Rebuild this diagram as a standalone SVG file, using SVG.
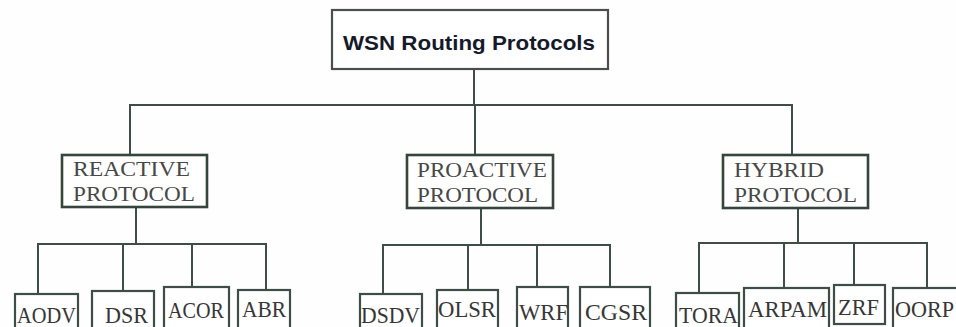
<svg xmlns="http://www.w3.org/2000/svg" width="956" height="327" viewBox="0 0 956 327">
  <style>
    .bg { fill: #fefefe; }
    .wire { stroke: #3e4d45; stroke-width: 2; fill: none; stroke-linecap: square; }
    .root-box { fill: #ffffff; stroke: #4a4f4c; stroke-width: 2.2; }
    .root-text { font-family: "Liberation Sans", Arial, sans-serif; font-weight: bold; font-size: 21px; fill: #151a2a; }
    .cat-box { fill: #ffffff; stroke: #34453b; stroke-width: 2.6; }
    .cat-text { font-family: "Liberation Serif", "Times New Roman", serif; font-size: 22px; fill: #474747; }
    .leaf-box { fill: #ffffff; stroke: #3e4d45; stroke-width: 2.2; }
    .leaf-text { font-family: "Liberation Serif", "Times New Roman", serif; font-size: 23px; fill: #363636; }
  </style>

  <rect class="bg" x="0" y="0" width="956" height="327"/>

  <!-- tree connectors -->
  <g id="connectors">
    <path class="wire" d="M474 69 V105 M130 105 H792 M130 105 V155 M475 105 V155 M792 105 V155"/>
    <!-- reactive branch -->
    <path class="wire" d="M136 207 V244 M38 244 H266 M38 244 V294 M123 244 V291 M192 244 V287 M266 244 V290"/>
    <!-- proactive branch -->
    <path class="wire" d="M481 208 V245 M383 245 H610 M383 245 V294 M468 245 V290 M537 245 V287 M610 245 V287"/>
    <!-- hybrid branch -->
    <path class="wire" d="M798 208 V243 M699 243 H927 M699 243 V293 M784 243 V288 M854 243 V285 M927 243 V288"/>
  </g>

  <g id="root">
    <rect class="root-box" x="332" y="10" width="276" height="59"/>
    <text class="root-text" x="343" y="50" textLength="252" lengthAdjust="spacingAndGlyphs">WSN Routing Protocols</text>
  </g>

  <g id="reactive">
    <rect class="cat-box" x="62" y="155" width="145" height="52"/>
    <text class="cat-text" x="73" y="176" textLength="117" lengthAdjust="spacingAndGlyphs">REACTIVE</text>
    <text class="cat-text" x="73" y="201" textLength="122" lengthAdjust="spacingAndGlyphs">PROTOCOL</text>
  </g>

  <g id="proactive">
    <rect class="cat-box" x="407" y="155" width="146" height="53"/>
    <text class="cat-text" x="417" y="177" textLength="130" lengthAdjust="spacingAndGlyphs">PROACTIVE</text>
    <text class="cat-text" x="417" y="202" textLength="121" lengthAdjust="spacingAndGlyphs">PROTOCOL</text>
  </g>

  <g id="hybrid">
    <rect class="cat-box" x="723" y="155" width="145" height="53"/>
    <text class="cat-text" x="734" y="177" textLength="90" lengthAdjust="spacingAndGlyphs">HYBRID</text>
    <text class="cat-text" x="734" y="202" textLength="123" lengthAdjust="spacingAndGlyphs">PROTOCOL</text>
  </g>

  <g id="aodv">
    <rect class="leaf-box" x="15" y="294" width="63" height="45"/>
    <text class="leaf-text" x="17" y="323" textLength="59" lengthAdjust="spacingAndGlyphs">AODV</text>
  </g>
  <g id="dsr">
    <rect class="leaf-box" x="92" y="291" width="62" height="48"/>
    <text class="leaf-text" x="105" y="323" textLength="43" lengthAdjust="spacingAndGlyphs">DSR</text>
  </g>
  <g id="acor">
    <rect class="leaf-box" x="164" y="287" width="65" height="52"/>
    <text class="leaf-text" x="168" y="318" textLength="56" lengthAdjust="spacingAndGlyphs">ACOR</text>
  </g>
  <g id="abr">
    <rect class="leaf-box" x="238" y="290" width="52" height="49"/>
    <text class="leaf-text" x="242" y="317" textLength="44" lengthAdjust="spacingAndGlyphs">ABR</text>
  </g>

  <g id="dsdv">
    <rect class="leaf-box" x="360" y="294" width="62" height="45"/>
    <text class="leaf-text" x="361" y="323" textLength="59" lengthAdjust="spacingAndGlyphs">DSDV</text>
  </g>
  <g id="olsr">
    <rect class="leaf-box" x="437" y="290" width="61" height="49"/>
    <text class="leaf-text" x="438" y="317" textLength="58" lengthAdjust="spacingAndGlyphs">OLSR</text>
  </g>
  <g id="wrf">
    <rect class="leaf-box" x="517" y="287" width="51" height="52"/>
    <text class="leaf-text" x="519" y="320" textLength="49" lengthAdjust="spacingAndGlyphs">WRF</text>
  </g>
  <g id="cgsr">
    <rect class="leaf-box" x="580" y="287" width="70" height="52"/>
    <text class="leaf-text" x="585" y="320" textLength="62" lengthAdjust="spacingAndGlyphs">CGSR</text>
  </g>

  <g id="tora">
    <rect class="leaf-box" x="676" y="293" width="63" height="46"/>
    <text class="leaf-text" x="679" y="323" textLength="59" lengthAdjust="spacingAndGlyphs">TORA</text>
  </g>
  <g id="arpam">
    <rect class="leaf-box" x="744" y="288" width="85" height="51"/>
    <text class="leaf-text" x="748" y="317" textLength="79" lengthAdjust="spacingAndGlyphs">ARPAM</text>
  </g>
  <g id="zrf">
    <rect class="leaf-box" x="834" y="285" width="51" height="39"/>
    <text class="leaf-text" x="838" y="315" textLength="41" lengthAdjust="spacingAndGlyphs">ZRF</text>
  </g>
  <g id="oorp">
    <rect class="leaf-box" x="893" y="288" width="70" height="51"/>
    <text class="leaf-text" x="895" y="317" textLength="59" lengthAdjust="spacingAndGlyphs">OORP</text>
  </g>
</svg>
